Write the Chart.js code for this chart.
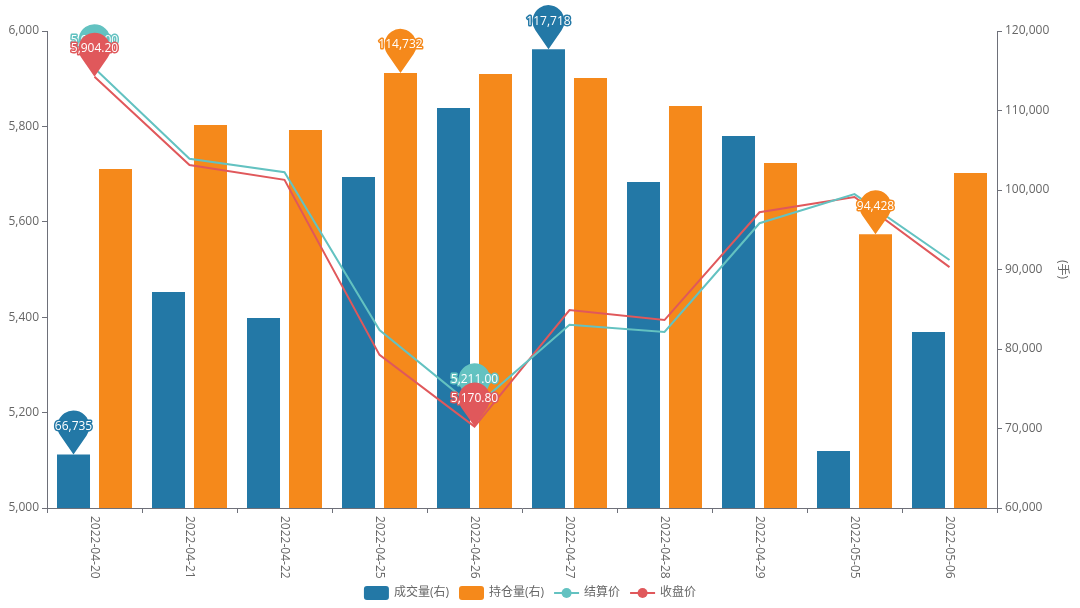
<!DOCTYPE html>
<html>
<head>
<meta charset="utf-8">
<script src="https://cdn.jsdelivr.net/npm/chart.js@4.4.1/dist/chart.umd.min.js"></script>
<style>
  html, body { margin: 0; padding: 0; background: #fff; }
  #wrap { width: 1080px; height: 608px; }
</style>
</head>
<body>
<div id="wrap"><canvas id="chart"></canvas></div>
<script>
// data
const dates = ['2022-04-20', '2022-04-21', '2022-04-22', '2022-04-25', '2022-04-26',
               '2022-04-27', '2022-04-28', '2022-04-29', '2022-05-05', '2022-05-06'];
const volume = [66735, 87170, 83900, 101640, 110310, 117718, 101010, 106790, 67170, 82140];
const openInterest = [102640, 108180, 107550, 114732, 114600, 114090, 110570, 103400, 94428, 102140];
const settlePrice = [5922.0, 5732.0, 5704.0, 5373.0, 5211.0, 5384.0, 5369.0, 5597.0, 5658.0, 5520.0];
const closePrice = [5904.2, 5719.0, 5688.0, 5321.0, 5170.8, 5415.0, 5394.0, 5620.0, 5652.0, 5505.0];
const seriesNames = ['成交量(右)', '持仓量(右)', '结算价', '收盘价'];
const leftTicks = [5000, 6000, 200];
const rightTicks = [60000, 120000, 10000];

const BLUE = '#2378a6', ORANGE = '#f5891b', TEAL = '#63c2c1', RED = '#e0585b';
const AXIS = '#6e7079', TEXT = '#666';
const FONT = "'Open Sans', 'Noto Sans CJK SC', sans-serif";

Chart.defaults.font.family = FONT;
Chart.defaults.font.size = 12;
Chart.defaults.color = TEXT;

const fmtInt = v => Math.round(v).toLocaleString('en-US');
const fmtDec = v => v.toLocaleString('en-US', { minimumFractionDigits: 2, maximumFractionDigits: 2 });

// balloon marker for max / min
function drawPin(ctx, x, y, color, text) {
    const r = 16, d = 28;
    const cy = y - d;
    const a = Math.acos(r / d);
    ctx.beginPath();
    ctx.moveTo(x, y);
    ctx.arc(x, cy, r, Math.PI / 2 + a, Math.PI / 2 - a + 2 * Math.PI, false);
    ctx.closePath();
    ctx.fillStyle = color;
    ctx.fill();
    ctx.font = '12px ' + FONT;
    ctx.textAlign = 'center';
    ctx.textBaseline = 'middle';
    ctx.lineJoin = 'round';
    ctx.lineWidth = 3;
    ctx.strokeStyle = color;
    ctx.strokeText(text, x, cy);
    ctx.fillStyle = '#fff';
    ctx.fillText(text, x, cy);
}

const pinPlugin = {
    id: 'pins',
    afterDatasetsDraw(chart) {
        const ctx = chart.ctx;
        [0, 1, 2, 3].forEach(di => {
            const ds = chart.data.datasets[di];
            const yScale = chart.scales[ds.yAxisID];
            const vals = ds.data;
            const fmt = di < 2 ? fmtInt : fmtDec;
            const iMax = vals.indexOf(Math.max(...vals));
            const iMin = vals.indexOf(Math.min(...vals));
            [iMax, iMin].forEach(i => {
                const el = chart.getDatasetMeta(di).data[i];
                ctx.save();
                drawPin(ctx, el.x, yScale.getPixelForValue(vals[i]), ds.borderColor, fmt(vals[i]));
                ctx.restore();
            });
        });
    },
    afterDraw(chart) {
        const ctx = chart.ctx;
        const x = chart.scales.x;
        // rotated date labels, reading top to bottom
        ctx.save();
        ctx.font = '12px ' + FONT;
        ctx.fillStyle = TEXT;
        ctx.textAlign = 'left';
        ctx.textBaseline = 'middle';
        dates.forEach((d, i) => {
            ctx.save();
            ctx.translate(x.getPixelForValue(i), x.top + 8);
            ctx.rotate(Math.PI / 2);
            ctx.fillText(d, 0, 0);
            ctx.restore();
        });
        ctx.restore();

        // legend
        ctx.save();
        ctx.font = '12px ' + FONT;
        ctx.textBaseline = 'middle';
        ctx.textAlign = 'left';
        const colors = [BLUE, ORANGE, TEAL, RED];
        const iconW = 25, gapIcon = 5, gapItem = 10;
        const widths = seriesNames.map(n => iconW + gapIcon + ctx.measureText(n).width);
        const total = widths.reduce((a, b) => a + b, 0) + gapItem * (seriesNames.length - 1);
        let lx = 530 - total / 2;
        const ly = 593;
        seriesNames.forEach((n, i) => {
            ctx.fillStyle = colors[i];
            ctx.strokeStyle = colors[i];
            if (i < 2) {
                ctx.beginPath();
                ctx.roundRect(lx, ly - 7, iconW, 14, 3);
                ctx.fill();
            } else {
                ctx.lineWidth = 2;
                ctx.beginPath();
                ctx.moveTo(lx, ly);
                ctx.lineTo(lx + iconW, ly);
                ctx.stroke();
                ctx.beginPath();
                ctx.arc(lx + iconW / 2, ly, 5, 0, Math.PI * 2);
                ctx.fill();
            }
            ctx.fillStyle = TEXT;
            ctx.fillText(n, lx + iconW + gapIcon, ly);
            lx += widths[i] + gapItem;
        });
        ctx.restore();
    }
};

new Chart(document.getElementById('chart'), {
    type: 'bar',
    data: {
        labels: dates,
        datasets: [
            { type: 'bar', label: seriesNames[0], data: volume, yAxisID: 'y1', order: 1,
              backgroundColor: BLUE, borderColor: BLUE, categoryPercentage: 0.884, barPercentage: 0.786 },
            { type: 'bar', label: seriesNames[1], data: openInterest, yAxisID: 'y1', order: 1,
              backgroundColor: ORANGE, borderColor: ORANGE, categoryPercentage: 0.884, barPercentage: 0.786 },
            { type: 'line', label: seriesNames[2], data: settlePrice, yAxisID: 'y', order: 0,
              borderColor: TEAL, backgroundColor: TEAL, borderWidth: 2, pointRadius: 0, tension: 0 },
            { type: 'line', label: seriesNames[3], data: closePrice, yAxisID: 'y', order: 0,
              borderColor: RED, backgroundColor: RED, borderWidth: 2, pointRadius: 0, tension: 0 }
        ]
    },
    options: {
        responsive: true,
        maintainAspectRatio: false,
        animation: false,
        layout: { padding: { top: 31, left: 0, right: 0, bottom: 0 } },
        plugins: {
            legend: { display: false },
            tooltip: { enabled: false }
        },
        scales: {
            x: {
                offset: true,
                grid: { display: true, offset: true, drawOnChartArea: false, drawTicks: true, tickLength: 5, color: AXIS },
                border: { display: true, color: AXIS },
                ticks: { display: false },
                afterFit: s => { s.height = 100; }
            },
            y: {
                position: 'left',
                min: leftTicks[0], max: leftTicks[1],
                ticks: { stepSize: leftTicks[2], callback: v => fmtInt(v), padding: 3, color: TEXT },
                grid: { drawOnChartArea: false, drawTicks: true, tickLength: 5, color: AXIS },
                border: { display: true, color: AXIS },
                afterFit: s => { s.width = 47; }
            },
            y1: {
                position: 'right',
                min: rightTicks[0], max: rightTicks[1],
                ticks: { stepSize: rightTicks[2], callback: v => fmtInt(v), padding: 3, color: TEXT },
                grid: { drawOnChartArea: false, drawTicks: true, tickLength: 5, color: AXIS },
                border: { display: true, color: AXIS },
                title: { display: true, text: '(手)', color: TEXT, padding: { top: 10, bottom: 10 } },
                afterFit: s => { s.width = 83; }
            }
        }
    },
    plugins: [pinPlugin]
});
</script>
</body>
</html>
